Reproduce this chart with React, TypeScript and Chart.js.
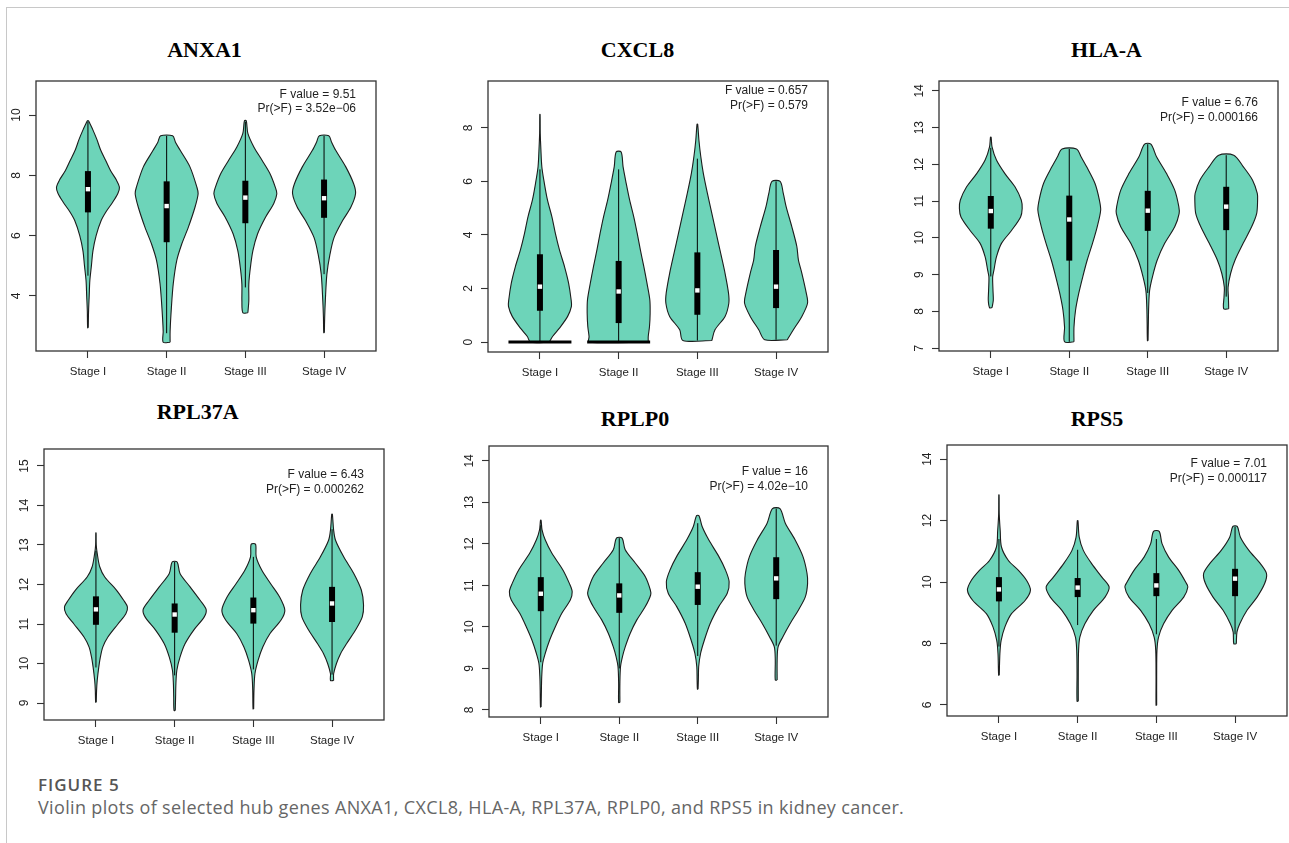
import React, { useEffect, useRef } from "react";
import { Chart, registerables } from "chart.js";

Chart.register(...registerables);

// ---------------- shared categories ----------------
const STAGES = ["Stage I", "Stage II", "Stage III", "Stage IV"];
const STAGE_POS = [1, 2, 3, 4];

// Violin profiles: [expression value, relative density (0..1)], bottom to top
// Box stats per stage: [whisker low, Q1, median, Q3, whisker high]

// ---------------- ANXA1 ----------------
const ANXA1_Y_TICKS = [4, 6, 8, 10];
const ANXA1_F_VALUE = "9.51";
const ANXA1_P_VALUE = "3.52e\u221206";
const ANXA1_STAGE_I = [[2.94, 0.01], [3.5, 0.02], [4.0, 0.04], [4.5, 0.06], [5.0, 0.11], [5.5, 0.16], [6.0, 0.26], [6.5, 0.42], [6.8, 0.58], [7.1, 0.78], [7.4, 0.95], [7.6, 1.0], [7.85, 0.9], [8.15, 0.72], [8.5, 0.56], [8.85, 0.4], [9.2, 0.28], [9.5, 0.16], [9.7, 0.07], [9.81, 0.02]];
const ANXA1_STAGE_II = [[2.46, 0.11], [2.83, 0.11], [3.6, 0.15], [4.4, 0.21], [5.17, 0.32], [5.72, 0.48], [6.28, 0.69], [6.94, 0.9], [7.39, 1.0], [7.61, 0.96], [8.28, 0.74], [8.83, 0.43], [9.1, 0.28], [9.31, 0.19]];
const ANXA1_STAGE_III = [[3.44, 0.08], [3.83, 0.11], [4.39, 0.11], [4.94, 0.16], [5.5, 0.24], [6.06, 0.39], [6.61, 0.64], [7.06, 0.9], [7.39, 1.0], [7.61, 0.95], [8.06, 0.78], [8.5, 0.53], [8.94, 0.27], [9.39, 0.08], [9.81, 0.03]];
const ANXA1_STAGE_IV = [[2.78, 0.01], [3.3, 0.02], [3.83, 0.04], [4.72, 0.09], [5.39, 0.19], [5.94, 0.32], [6.5, 0.59], [6.94, 0.85], [7.39, 1.0], [7.72, 0.94], [8.28, 0.69], [8.83, 0.37], [9.1, 0.24], [9.31, 0.15]];
const ANXA1_BOX = [[4.67, 6.77, 7.54, 8.14, 9.78], [2.76, 5.78, 6.98, 7.8, 9.31], [4.28, 6.41, 7.26, 7.82, 9.78], [4.72, 6.59, 7.24, 7.86, 9.31]];

// ---------------- CXCL8 ----------------
const CXCL8_Y_TICKS = [0, 2, 4, 6, 8];
const CXCL8_F_VALUE = "0.657";
const CXCL8_P_VALUE = "0.579";
const CXCL8_STAGE_I = [[0, 0.3], [0.21, 0.4], [0.52, 0.62], [0.96, 0.88], [1.33, 1.0], [1.58, 0.99], [2.2, 0.91], [2.82, 0.78], [3.44, 0.62], [4.06, 0.49], [4.68, 0.38], [5.3, 0.24], [5.93, 0.14], [6.55, 0.06], [7.2, 0.03], [7.8, 0.01], [8.5, 0.005]];
const CXCL8_STAGE_II = [[0, 0.94], [0.21, 0.94], [0.58, 0.98], [1.08, 1.0], [1.58, 0.99], [2.2, 0.9], [2.82, 0.8], [3.44, 0.69], [4.06, 0.59], [4.68, 0.48], [5.3, 0.35], [5.93, 0.24], [6.55, 0.14], [7.1, 0.08]];
const CXCL8_STAGE_III = [[0.06, 0.46], [0.46, 0.56], [0.96, 0.88], [1.45, 1.0], [1.83, 0.99], [2.57, 0.88], [3.32, 0.74], [4.06, 0.6], [4.81, 0.46], [5.55, 0.32], [6.3, 0.19], [6.92, 0.11], [7.54, 0.05], [8.14, 0.01]];
const CXCL8_STAGE_IV = [[0.09, 0.36], [0.46, 0.55], [0.96, 0.82], [1.45, 1.0], [1.83, 0.96], [2.57, 0.82], [3.07, 0.71], [3.57, 0.66], [4.31, 0.5], [5.06, 0.32], [5.55, 0.23], [6.0, 0.13]];
const CXCL8_BOX = [[0, 1.17, 2.07, 3.28, 6.45], [0, 0.71, 1.89, 3.03, 6.45], [0.06, 1.02, 1.93, 3.35, 6.85], [0.09, 1.27, 2.07, 3.44, 6.0]];
const CXCL8_ZERO_SPIKE = [true, true, false, false];

// ---------------- HLA-A ----------------
const HLAA_Y_TICKS = [7, 8, 9, 10, 11, 12, 13, 14];
const HLAA_F_VALUE = "6.76";
const HLAA_P_VALUE = "0.000166";
const HLAA_STAGE_I = [[8.1, 0.04], [8.3, 0.08], [8.57, 0.07], [8.94, 0.06], [9.12, 0.1], [9.48, 0.18], [9.85, 0.34], [10.2, 0.66], [10.57, 0.95], [10.8, 1.0], [11.03, 0.97], [11.39, 0.77], [11.75, 0.45], [12.12, 0.18], [12.48, 0.04], [12.74, 0.01]];
const HLAA_STAGE_II = [[7.17, 0.15], [7.57, 0.15], [8.03, 0.2], [8.48, 0.3], [8.94, 0.43], [9.39, 0.57], [9.85, 0.74], [10.3, 0.89], [10.75, 1.0], [11.03, 0.96], [11.48, 0.82], [11.94, 0.55], [12.2, 0.38], [12.42, 0.23]];
const HLAA_STAGE_III = [[7.2, 0.01], [7.7, 0.02], [8.12, 0.03], [8.57, 0.06], [8.94, 0.15], [9.39, 0.3], [9.85, 0.54], [10.3, 0.86], [10.66, 1.0], [10.85, 0.99], [11.3, 0.86], [11.75, 0.6], [12.21, 0.28], [12.55, 0.1]];
const HLAA_STAGE_IV = [[8.07, 0.08], [8.39, 0.07], [8.66, 0.06], [9.03, 0.14], [9.39, 0.28], [9.85, 0.54], [10.3, 0.81], [10.66, 0.97], [11.03, 1.0], [11.21, 0.99], [11.57, 0.84], [11.94, 0.54], [12.25, 0.24]];
const HLAA_BOX = [[8.95, 10.25, 10.73, 11.14, 12.45], [7.17, 9.38, 10.5, 11.15, 12.42], [8.5, 10.19, 10.74, 11.28, 12.55], [8.4, 10.21, 10.85, 11.39, 12.25]];

// ---------------- RPL37A ----------------
const RPL37A_Y_TICKS = [9, 10, 11, 12, 13, 14, 15];
const RPL37A_F_VALUE = "6.43";
const RPL37A_P_VALUE = "0.000262";
const RPL37A_STAGE_I = [[9.02, 0.01], [9.32, 0.02], [9.57, 0.04], [9.91, 0.09], [10.16, 0.14], [10.42, 0.22], [10.67, 0.38], [11.0, 0.7], [11.26, 0.95], [11.43, 1.0], [11.6, 0.88], [11.86, 0.65], [12.19, 0.28], [12.45, 0.12], [12.79, 0.04], [13.0, 0.01], [13.31, 0.005]];
const RPL37A_STAGE_II = [[8.81, 0.02], [9.15, 0.03], [9.49, 0.04], [9.83, 0.07], [10.16, 0.17], [10.5, 0.33], [10.84, 0.6], [11.18, 0.94], [11.37, 1.0], [11.6, 0.81], [11.94, 0.49], [12.28, 0.17], [12.57, 0.08]];
const RPL37A_STAGE_III = [[8.85, 0.01], [9.32, 0.02], [9.74, 0.05], [10.08, 0.15], [10.42, 0.3], [10.76, 0.53], [11.1, 0.88], [11.35, 1.0], [11.69, 0.83], [12.02, 0.55], [12.36, 0.27], [12.7, 0.09], [13.02, 0.07]];
const RPL37A_STAGE_IV = [[9.57, 0.05], [9.74, 0.05], [10.0, 0.14], [10.25, 0.27], [10.5, 0.46], [10.84, 0.74], [11.18, 0.96], [11.48, 1.0], [11.86, 0.93], [12.28, 0.69], [12.7, 0.37], [13.12, 0.11], [13.38, 0.05], [13.78, 0.01]];
const RPL37A_BOX = [[9.9, 10.98, 11.37, 11.7, 12.85], [9.7, 10.78, 11.24, 11.52, 12.57], [9.85, 11.01, 11.35, 11.67, 12.7], [9.72, 11.05, 11.52, 11.94, 13.4]];

// ---------------- RPLP0 ----------------
const RPLP0_Y_TICKS = [8, 9, 10, 11, 12, 13, 14];
const RPLP0_F_VALUE = "16";
const RPLP0_P_VALUE = "4.02e\u221210";
const RPLP0_STAGE_I = [[8.07, 0.01], [8.48, 0.02], [8.8, 0.03], [9.12, 0.06], [9.36, 0.14], [9.68, 0.28], [10.0, 0.46], [10.33, 0.67], [10.65, 0.94], [10.85, 1.0], [11.05, 0.91], [11.38, 0.7], [11.78, 0.35], [12.1, 0.14], [12.34, 0.04], [12.57, 0.01]];
const RPLP0_STAGE_II = [[8.18, 0.02], [8.64, 0.02], [9.04, 0.04], [9.28, 0.1], [9.52, 0.19], [9.85, 0.35], [10.17, 0.56], [10.49, 0.83], [10.77, 1.0], [10.89, 0.99], [11.21, 0.83], [11.54, 0.51], [11.86, 0.19], [12.14, 0.09]];
const RPLP0_STAGE_III = [[8.5, 0.01], [8.72, 0.02], [9.04, 0.03], [9.36, 0.09], [9.68, 0.21], [10.09, 0.4], [10.49, 0.67], [10.81, 0.94], [11.09, 1.0], [11.38, 0.88], [11.7, 0.67], [12.1, 0.35], [12.42, 0.14], [12.68, 0.04]];
const RPLP0_STAGE_IV = [[8.72, 0.03], [9.2, 0.03], [9.52, 0.06], [9.76, 0.21], [10.09, 0.45], [10.41, 0.71], [10.73, 0.93], [11.05, 1.0], [11.3, 0.98], [11.7, 0.85], [12.1, 0.6], [12.5, 0.29], [12.85, 0.12]];
const RPLP0_BOX = [[9.15, 10.38, 10.8, 11.2, 12.45], [9.0, 10.34, 10.76, 11.05, 12.14], [9.3, 10.53, 10.97, 11.32, 12.5], [9.55, 10.67, 11.17, 11.68, 12.85]];

// ---------------- RPS5 ----------------
const RPS5_Y_TICKS = [6, 8, 10, 12, 14];
const RPS5_F_VALUE = "7.01";
const RPS5_P_VALUE = "0.000117";
const RPS5_STAGE_I = [[6.97, 0.01], [7.67, 0.03], [8.1, 0.07], [8.54, 0.19], [8.97, 0.4], [9.4, 0.83], [9.73, 1.0], [10.05, 0.88], [10.38, 0.62], [10.7, 0.3], [11.14, 0.08], [11.68, 0.04], [12.2, 0.01], [12.84, 0.005]];
const RPS5_STAGE_II = [[6.12, 0.02], [7.02, 0.02], [7.78, 0.03], [8.21, 0.07], [8.64, 0.23], [9.08, 0.5], [9.51, 0.87], [9.84, 1.0], [10.16, 0.77], [10.59, 0.45], [11.03, 0.18], [11.46, 0.05], [12.0, 0.01]];
const RPS5_STAGE_III = [[5.99, 0.01], [6.91, 0.01], [7.78, 0.02], [8.21, 0.07], [8.64, 0.23], [9.08, 0.5], [9.51, 0.87], [9.84, 1.0], [10.0, 0.93], [10.38, 0.71], [10.81, 0.39], [11.25, 0.18], [11.65, 0.09]];
const RPS5_STAGE_IV = [[7.99, 0.04], [8.37, 0.06], [8.64, 0.15], [9.08, 0.38], [9.51, 0.7], [9.95, 0.94], [10.27, 1.0], [10.59, 0.81], [11.03, 0.44], [11.46, 0.17], [11.81, 0.07]];
const RPS5_BOX = [[7.9, 9.37, 9.76, 10.16, 11.4], [8.6, 9.51, 9.82, 10.13, 11.05], [8.3, 9.54, 9.89, 10.29, 11.4], [8.3, 9.54, 10.11, 10.43, 11.8]];

const NO_SPIKE = [false, false, false, false];

const GENES = [
  { name: "ANXA1", yTicks: ANXA1_Y_TICKS, f: ANXA1_F_VALUE, p: ANXA1_P_VALUE, violins: [ANXA1_STAGE_I, ANXA1_STAGE_II, ANXA1_STAGE_III, ANXA1_STAGE_IV], box: ANXA1_BOX, zero: NO_SPIKE },
  { name: "CXCL8", yTicks: CXCL8_Y_TICKS, f: CXCL8_F_VALUE, p: CXCL8_P_VALUE, violins: [CXCL8_STAGE_I, CXCL8_STAGE_II, CXCL8_STAGE_III, CXCL8_STAGE_IV], box: CXCL8_BOX, zero: CXCL8_ZERO_SPIKE },
  { name: "HLA-A", yTicks: HLAA_Y_TICKS, f: HLAA_F_VALUE, p: HLAA_P_VALUE, violins: [HLAA_STAGE_I, HLAA_STAGE_II, HLAA_STAGE_III, HLAA_STAGE_IV], box: HLAA_BOX, zero: NO_SPIKE },
  { name: "RPL37A", yTicks: RPL37A_Y_TICKS, f: RPL37A_F_VALUE, p: RPL37A_P_VALUE, violins: [RPL37A_STAGE_I, RPL37A_STAGE_II, RPL37A_STAGE_III, RPL37A_STAGE_IV], box: RPL37A_BOX, zero: NO_SPIKE },
  { name: "RPLP0", yTicks: RPLP0_Y_TICKS, f: RPLP0_F_VALUE, p: RPLP0_P_VALUE, violins: [RPLP0_STAGE_I, RPLP0_STAGE_II, RPLP0_STAGE_III, RPLP0_STAGE_IV], box: RPLP0_BOX, zero: NO_SPIKE },
  { name: "RPS5", yTicks: RPS5_Y_TICKS, f: RPS5_F_VALUE, p: RPS5_P_VALUE, violins: [RPS5_STAGE_I, RPS5_STAGE_II, RPS5_STAGE_III, RPS5_STAGE_IV], box: RPS5_BOX, zero: NO_SPIKE },
];

// ---------------- layout (page pixels) ----------------
const X_RANGE = [0.34, 4.66];
const PANELS = [
  { box: [36, 81, 376, 351], yRange: [2.17, 11.13], titleX: 204.5, titleY: 50.3, fOff: 14, pOff: 28 },
  { box: [488, 81, 828, 352], yRange: [-0.37, 9.75], titleX: 637.5, titleY: 50.3, fOff: 10, pOff: 25 },
  { box: [939, 81, 1278, 351], yRange: [6.92, 14.27], titleX: 1106.5, titleY: 50.3, fOff: 22, pOff: 36.7 },
  { box: [44, 449, 384, 720], yRange: [8.57, 15.43], titleX: 197.7, titleY: 412.3, fOff: 26, pOff: 41 },
  { box: [489, 446, 828, 717], yRange: [7.83, 14.36], titleX: 635, titleY: 419.2, fOff: 25.3, pOff: 40.7 },
  { box: [947, 445, 1287, 716], yRange: [5.64, 14.46], titleX: 1097, titleY: 419.2, fOff: 18.3, pOff: 33.3 },
];

const HALF_WIDTH = 0.4;
const VIOLIN_FILL = "#6dd4b9";
const OUTLINE = "#1c1c1c";
const SANS = '"Liberation Sans", Arial, Helvetica, sans-serif';

function buildDatasets(gene: any) {
  const ds: any[] = [];
  gene.violins.forEach((profile: number[][], i: number) => {
    const pos = STAGE_POS[i];
    const right = profile.map(([y, d]) => ({ x: pos + d * HALF_WIDTH, y }));
    const left = [...profile].reverse().map(([y, d]) => ({ x: pos - d * HALF_WIDTH, y }));
    const pts = [...right, ...left, right[0]];
    ds.push({
      type: "line", data: pts, fill: "shape", backgroundColor: VIOLIN_FILL,
      borderColor: OUTLINE, borderWidth: 1.1, pointRadius: 0, tension: 0.3, order: 4,
    });
  });
  gene.zero.forEach((on: boolean, i: number) => {
    if (!on) return;
    const pos = STAGE_POS[i];
    ds.push({
      type: "line", data: [{ x: pos - HALF_WIDTH, y: 0 }, { x: pos + HALF_WIDTH, y: 0 }],
      borderColor: "#000", borderWidth: 3, pointRadius: 0, fill: false, order: 3,
    });
  });
  gene.box.forEach((b: number[], i: number) => {
    const pos = STAGE_POS[i];
    ds.push({
      type: "line", data: [{ x: pos, y: b[0] }, { x: pos, y: b[4] }],
      borderColor: "#000", borderWidth: 1, pointRadius: 0, fill: false, order: 2,
    });
    ds.push({
      type: "line", data: [{ x: pos, y: b[1] }, { x: pos, y: b[3] }],
      borderColor: "#000", borderWidth: 6, borderCapStyle: "butt", pointRadius: 0, fill: false, order: 1,
    });
  });
  ds.push({
    type: "line", data: gene.box.map((b: number[], i: number) => ({ x: STAGE_POS[i], y: b[2] })),
    showLine: false, pointStyle: "rect", pointRadius: 3.1, pointBackgroundColor: "#ffffff",
    pointBorderWidth: 0, fill: false, order: 0,
  });
  return ds;
}

function makeFramePlugin(gene: any, layout: any) {
  return {
    id: "frameAndText",
    afterDatasetsDraw(chart: any) {
      const { ctx, chartArea: a, scales } = chart;
      ctx.save();
      ctx.strokeStyle = "#333";
      ctx.lineWidth = 1.3;
      ctx.strokeRect(a.left, a.top, a.right - a.left, a.bottom - a.top);
      ctx.fillStyle = "#222";
      ctx.font = `12px ${SANS}`;
      ctx.textAlign = "center";
      ctx.textBaseline = "middle";
      for (const t of scales.y.ticks) {
        const py = scales.y.getPixelForValue(t.value);
        ctx.save();
        ctx.translate(a.left - 19, py);
        ctx.rotate(-Math.PI / 2);
        ctx.fillText(String(t.value), 0, 0);
        ctx.restore();
      }
      ctx.textAlign = "right";
      ctx.fillText(`F value = ${gene.f}`, a.right - 20, a.top + layout.fOff);
      ctx.fillText(`Pr(>F) = ${gene.p}`, a.right - 20, a.top + layout.pOff);
      ctx.restore();
    },
  };
}

function buildConfig(gene: any, layout: any): any {
  const gridOpts = { drawOnChartArea: false, drawTicks: true, tickLength: 7, tickColor: "#333", tickWidth: 1.1 };
  return {
    type: "line",
    data: { datasets: buildDatasets(gene) },
    options: {
      animation: false,
      responsive: false,
      maintainAspectRatio: false,
      indexAxis: "y",
      events: [],
      layout: { padding: { left: 0, top: 10, right: 10, bottom: 0 } },
      plugins: { legend: { display: false }, tooltip: { enabled: false }, title: { display: false } },
      scales: {
        x: {
          type: "linear", position: "bottom", min: X_RANGE[0], max: X_RANGE[1],
          afterBuildTicks: (s: any) => { s.ticks = STAGE_POS.map((v) => ({ value: v })); },
          afterFit: (s: any) => { s.height = 40; },
          ticks: {
            autoSkip: false, maxRotation: 0, minRotation: 0, padding: 7, color: "#222",
            font: { family: SANS, size: 11.5 },
            callback: (v: any) => STAGES[Math.round(Number(v)) - 1],
          },
          grid: gridOpts,
          border: { display: false },
        },
        y: {
          type: "linear", position: "left", min: layout.yRange[0], max: layout.yRange[1],
          afterBuildTicks: (s: any) => { s.ticks = gene.yTicks.map((v: number) => ({ value: v })); },
          afterFit: (s: any) => { s.width = 40; },
          ticks: { display: false },
          grid: gridOpts,
          border: { display: false },
        },
      },
    },
    plugins: [makeFramePlugin(gene, layout)],
  };
}

function ViolinPanel({ gene, layout }: { gene: any; layout: any }) {
  const ref = useRef<HTMLCanvasElement>(null);
  const [l, t, r, b] = layout.box;
  const W = r - l + 50;
  const H = b - t + 50;
  useEffect(() => {
    if (!ref.current) return;
    const chart = new Chart(ref.current, buildConfig(gene, layout));
    return () => chart.destroy();
  }, []);
  return (
    <>
      <canvas
        ref={ref}
        width={W}
        height={H}
        style={{ position: "absolute", left: l - 40, top: t - 10, width: W, height: H }}
      />
      <div
        style={{
          position: "absolute", left: layout.titleX - 100, width: 200, top: layout.titleY - 11.1,
          textAlign: "center", fontFamily: '"Liberation Serif", "Times New Roman", serif',
          fontWeight: 700, fontSize: 22, lineHeight: "22px", color: "#000", whiteSpace: "nowrap",
        }}
      >
        {gene.name}
      </div>
    </>
  );
}

export default function App() {
  return (
    <div
      style={{
        position: "absolute", left: 0, top: 0, width: 1289, height: 843,
        overflow: "hidden", background: "#fff",
      }}
    >
      <div style={{ position: "absolute", left: 6, top: 7, width: 1283, height: 1, background: "#c8c8c8" }} />
      <div style={{ position: "absolute", left: 6, top: 7, width: 1, height: 836, background: "#c8c8c8" }} />
      {GENES.map((g, i) => (
        <ViolinPanel key={g.name} gene={g} layout={PANELS[i]} />
      ))}
      <div
        style={{
          position: "absolute", left: 38, top: 776.3, fontFamily: '"Open Sans", sans-serif',
          fontWeight: 600, fontSize: 17, lineHeight: "17px", letterSpacing: 1.0, color: "#555", whiteSpace: "nowrap",
        }}
      >
        FIGURE 5
      </div>
      <div
        style={{
          position: "absolute", left: 38, top: 798.2, fontFamily: '"Open Sans", sans-serif',
          fontWeight: 400, fontSize: 18, lineHeight: "18px", letterSpacing: 0.35, color: "#666", whiteSpace: "nowrap",
        }}
      >
        Violin plots of selected hub genes ANXA1, CXCL8, HLA-A, RPL37A, RPLP0, and RPS5 in kidney cancer.
      </div>
    </div>
  );
}
